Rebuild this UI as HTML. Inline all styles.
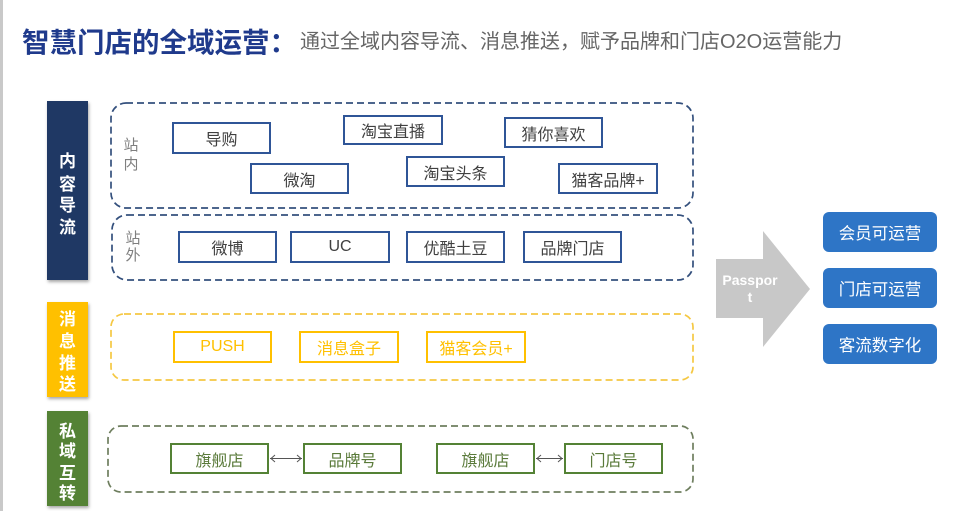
<!DOCTYPE html>
<html><head><meta charset="utf-8">
<style>
html,body{margin:0;padding:0;background:#fff;}
body{width:962px;height:511px;position:relative;overflow:hidden;font-family:"Liberation Sans","Noto Sans CJK SC",sans-serif;}
.a{position:absolute;box-sizing:border-box;}
.lb{position:absolute;left:47px;width:41px;color:#fff;font-weight:bold;font-size:17px;text-align:center;box-shadow:1px 2px 3px rgba(0,0,0,0.35);font-family:"Noto Sans CJK SC",sans-serif;}
.lb span{position:absolute;left:0;width:41px;line-height:20px;}
.bx{position:absolute;box-sizing:border-box;background:#fff;border:2px solid #2F5597;color:#404040;font-size:16px;display:flex;align-items:center;justify-content:center;font-family:"Liberation Sans","Noto Sans CJK SC",sans-serif;}
.y{border-color:#FFC000;color:#FFC000;}
.g{border-color:#548235;color:#5A7A3A;}
.bl{position:absolute;left:823px;width:114px;height:40px;background:#2E75C6;border-radius:6px;color:#fff;font-size:16.5px;display:flex;align-items:center;justify-content:center;}
.sm{position:absolute;color:#7f7f7f;font-size:15px;line-height:18px;width:20px;text-align:center;}
</style></head><body>
<div class="a" style="left:0;top:0;width:3px;height:511px;background:#c9c9c9;"></div>

<div class="a" style="left:22px;top:21px;font-size:27.5px;font-weight:bold;color:#1F3A8C;white-space:nowrap;line-height:38px;font-family:'Noto Sans CJK SC',sans-serif;">智慧门店的全域运营：</div>
<div class="a" style="left:300px;top:28px;font-size:20px;color:#666;white-space:nowrap;line-height:28px;">通过全域内容导流、消息推送，赋予品牌和门店O2O运营能力</div>

<svg class="a" style="left:0;top:0" width="962" height="511">
  <rect x="111" y="103" width="582" height="105" rx="15" fill="none" stroke="#34507D" stroke-width="1.7" stroke-dasharray="7 4"/>
  <rect x="112" y="215" width="581" height="65" rx="15" fill="none" stroke="#34507D" stroke-width="1.7" stroke-dasharray="7 4"/>
  <rect x="111" y="314" width="582" height="66" rx="13" fill="none" stroke="#F5C843" stroke-width="1.7" stroke-dasharray="7 4"/>
  <rect x="108" y="426" width="585" height="66" rx="13" fill="none" stroke="#6E7E5E" stroke-width="1.7" stroke-dasharray="7 4"/>
  <polygon points="716,259 763,259 763,231 810,289 763,347 763,318 716,318" fill="#C8C8C8"/>
  <g stroke="#555" stroke-width="1" fill="none">
    <line x1="270" y1="458.5" x2="302" y2="458.5"/>
    <polyline points="275,455 271,458.5 275,462"/>
    <polyline points="297,455 301,458.5 297,462"/>
    <line x1="536" y1="458.5" x2="563" y2="458.5"/>
    <polyline points="541,455 537,458.5 541,462"/>
    <polyline points="558,455 562,458.5 558,462"/>
  </g>
</svg>

<div class="lb" style="top:101px;height:179px;background:#1F3864;">
  <span style="top:49px">内</span><span style="top:72px">容</span><span style="top:93px">导</span><span style="top:115px">流</span>
</div>
<div class="lb" style="top:302px;height:95px;background:#FFC000;">
  <span style="top:6px">消</span><span style="top:28px">息</span><span style="top:50px">推</span><span style="top:71px">送</span>
</div>
<div class="lb" style="top:411px;height:95px;background:#548235;">
  <span style="top:9px">私</span><span style="top:29px">域</span><span style="top:51px">互</span><span style="top:71px">转</span>
</div>

<div class="sm" style="left:121px;top:137px;">站</div>
<div class="sm" style="left:121px;top:156px;">内</div>
<div class="sm" style="left:123px;top:230px;">站</div>
<div class="sm" style="left:123px;top:247px;">外</div>

<div class="bx" style="left:172px;top:122px;width:99px;height:32px;">导购</div>
<div class="bx" style="left:250px;top:163px;width:99px;height:31px;">微淘</div>
<div class="bx" style="left:343px;top:115px;width:100px;height:30px;">淘宝直播</div>
<div class="bx" style="left:406px;top:156px;width:99px;height:31px;">淘宝头条</div>
<div class="bx" style="left:504px;top:117px;width:99px;height:31px;">猜你喜欢</div>
<div class="bx" style="left:558px;top:163px;width:100px;height:31px;">猫客品牌+</div>

<div class="bx" style="left:178px;top:231px;width:99px;height:32px;">微博</div>
<div class="bx" style="left:290px;top:231px;width:100px;height:32px;">UC</div>
<div class="bx" style="left:406px;top:231px;width:99px;height:32px;">优酷土豆</div>
<div class="bx" style="left:523px;top:231px;width:99px;height:32px;">品牌门店</div>

<div class="bx y" style="left:173px;top:331px;width:99px;height:32px;">PUSH</div>
<div class="bx y" style="left:299px;top:331px;width:100px;height:32px;">消息盒子</div>
<div class="bx y" style="left:426px;top:331px;width:100px;height:32px;">猫客会员+</div>

<div class="bx g" style="left:170px;top:443px;width:99px;height:31px;">旗舰店</div>
<div class="bx g" style="left:303px;top:443px;width:99px;height:31px;">品牌号</div>
<div class="bx g" style="left:436px;top:443px;width:99px;height:31px;">旗舰店</div>
<div class="bx g" style="left:564px;top:443px;width:99px;height:31px;">门店号</div>

<div class="a" style="left:714px;top:272px;width:72px;text-align:center;color:#fff;font-size:14px;line-height:17px;font-weight:bold;">Passpor<br>t</div>

<div class="bl" style="top:212px;">会员可运营</div>
<div class="bl" style="top:268px;">门店可运营</div>
<div class="bl" style="top:324px;">客流数字化</div>
</body></html>
